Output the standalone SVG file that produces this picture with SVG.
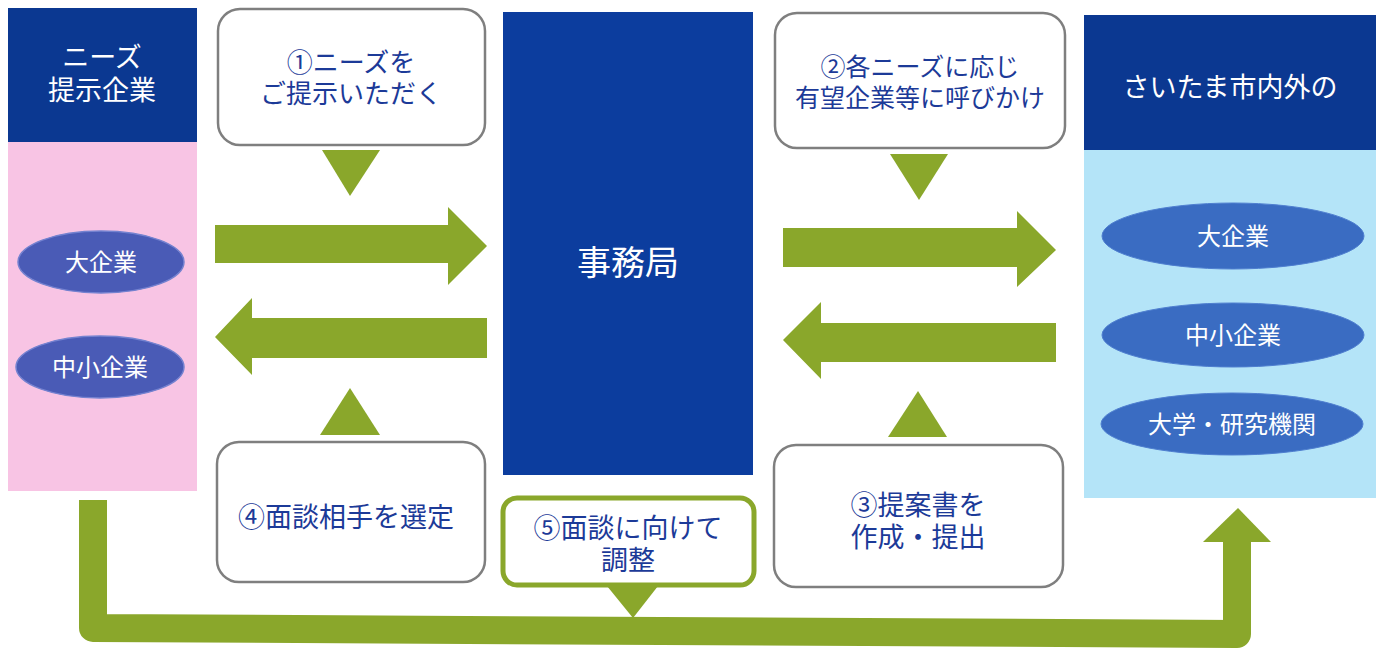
<svg xmlns="http://www.w3.org/2000/svg" width="1384" height="649" viewBox="0 0 1384 649">
<style>
text{font-family:"Noto Sans CJK JP","Noto Sans",sans-serif;text-anchor:middle}
.w{fill:#ffffff}
.b{fill:#1c3a98}
.box{fill:#ffffff;stroke:#7f7f7f;stroke-width:2.5}
.g{fill:#8aa72b}
.hdr{fill:#0b3891}
.el1{fill:#4a5bb6;stroke:#7482d0;stroke-width:1.5}
.el2{fill:#3a6cc2;stroke:#4f7fd0;stroke-width:1}
</style>
<rect width="1384" height="649" fill="#ffffff"/>

<g id="needs-companies">
<rect x="8" y="142" width="189" height="349" fill="#f8c4e4"/>
<rect x="8" y="8" width="189" height="134" class="hdr"/>
<text x="102" y="67" font-size="27" class="w">ニーズ</text>
<text x="102" y="100" font-size="27" class="w">提示企業</text>
<ellipse cx="101" cy="262" rx="83" ry="31" class="el1"/>
<text x="101" y="271" font-size="24" class="w">大企業</text>
<ellipse cx="100" cy="367" rx="84" ry="31" class="el1"/>
<text x="100" y="376" font-size="24" class="w">中小企業</text>
</g>

<g id="saitama-companies">
<rect x="1084" y="150" width="292" height="348" fill="#b4e4f8"/>
<rect x="1084" y="15" width="292" height="135" class="hdr"/>
<text x="1230" y="97" font-size="27" class="w">さいたま市内外の</text>
<ellipse cx="1233" cy="236" rx="131" ry="33" class="el2"/>
<text x="1233" y="245" font-size="24" class="w">大企業</text>
<ellipse cx="1233" cy="335" rx="131" ry="32" class="el2"/>
<text x="1233" y="344" font-size="24" class="w">中小企業</text>
<ellipse cx="1232" cy="424" rx="131" ry="31" class="el2"/>
<text x="1232" y="433" font-size="24" class="w">大学・研究機関</text>
</g>

<g id="secretariat">
<rect x="503" y="12" width="250" height="463" fill="#0c3d9e"/>
<text x="628" y="275" font-size="34" class="w">事務局</text>
</g>

<g id="step1">
<rect x="218" y="9" width="267" height="136" rx="22" class="box"/>
<text x="351" y="72" font-size="26" class="b">①ニーズを</text>
<text x="351" y="103" font-size="26" class="b">ご提示いただく</text>
</g>

<g id="step2">
<rect x="775" y="13" width="290" height="135" rx="22" class="box"/>
<text x="920" y="76" font-size="25" class="b">②各ニーズに応じ</text>
<text x="920" y="107" font-size="25" class="b">有望企業等に呼びかけ</text>
</g>

<g id="step3">
<rect x="774" y="445" width="289" height="142" rx="22" class="box"/>
<text x="918" y="515" font-size="27" class="b">③提案書を</text>
<text x="918" y="547" font-size="27" class="b">作成・提出</text>
</g>

<g id="step4">
<rect x="217" y="442" width="268" height="140" rx="22" class="box"/>
<text x="346" y="527" font-size="27" class="b">④面談相手を選定</text>
</g>

<g id="step5">
<rect x="503" y="498" width="251" height="87" rx="14" fill="#ffffff" stroke="#8aa72b" stroke-width="5"/>
<text x="628" y="538" font-size="27" class="b">⑤面談に向けて</text>
<text x="628" y="570" font-size="27" class="b">調整</text>
</g>

<g id="connectors">
<polygon class="g" points="322,150 380,150 350,196"/>
<polygon class="g" points="890,154 948,154 919,200"/>
<polygon class="g" points="320,435 380,435 350,388"/>
<polygon class="g" points="888,437 947,437 918,391"/>
<polygon class="g" points="215,225 448,225 448,207 487,246 448,285 448,263 215,263"/>
<polygon class="g" points="487,318 252,318 252,298 215,337 252,375 252,358 487,358"/>
<polygon class="g" points="783,228 1017,228 1017,211 1056,250 1017,287 1017,267 783,267"/>
<polygon class="g" points="1056,323 821,323 821,302 783,340 821,379 821,362 1056,362"/>
<polygon class="g" points="607,586 658,586 633,618"/>
<path d="M93,500 L93,628 L1237,634 L1237,540" fill="none" stroke="#8aa72b" stroke-width="28" stroke-linejoin="round"/>
<polygon class="g" points="1203,542 1271,542 1238,508"/>
</g>
</svg>
